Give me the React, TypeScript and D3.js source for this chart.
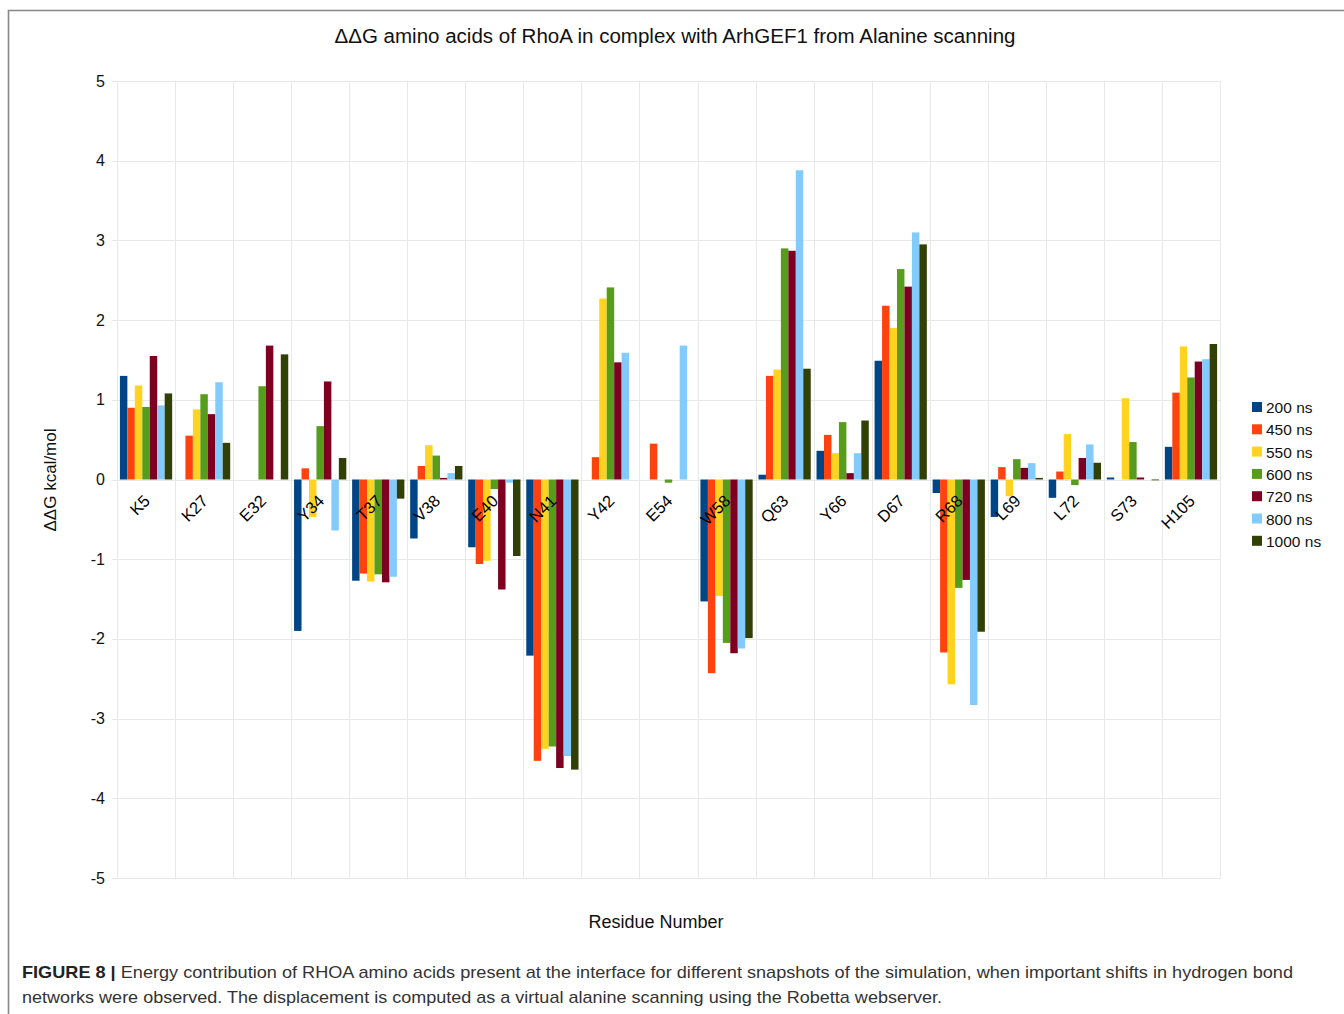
import React, { useEffect, useRef } from 'react';
import * as d3 from 'd3';

const residues = ['K5', 'K27', 'E32', 'Y34', 'T37', 'V38', 'E40', 'N41', 'Y42', 'E54', 'W58', 'Q63', 'Y66', 'D67', 'R68', 'L69', 'L72', 'S73', 'H105'];
const seriesNames = ['200 ns', '450 ns', '550 ns', '600 ns', '720 ns', '800 ns', '1000 ns'];
const seriesColors = ['#004586', '#ff420e', '#ffd320', '#579d1c', '#7e0021', '#83caff', '#314004'];

// one value per residue, same order as residues
const ns200 = [1.30, 0, 0, -1.90, -1.27, -0.74, -0.85, -2.21, 0, 0, -1.53, 0.06, 0.36, 1.49, -0.17, -0.47, -0.23, 0.025, 0.41];
const ns450 = [0.90, 0.55, 0, 0.14, -1.18, 0.17, -1.06, -3.53, 0.28, 0.45, -2.43, 1.30, 0.56, 2.18, -2.17, 0.155, 0.10, 0, 1.09];
const ns550 = [1.18, 0.88, 0, -0.47, -1.28, 0.43, -1.02, -3.38, 2.27, 0, -1.46, 1.38, 0.33, 1.90, -2.57, -0.21, 0.57, 1.02, 1.67];
const ns600 = [0.91, 1.07, 1.17, 0.67, -1.19, 0.30, -0.12, -3.35, 2.41, -0.04, -2.05, 2.90, 0.72, 2.64, -1.36, 0.255, -0.07, 0.47, 1.28];
const ns720 = [1.55, 0.82, 1.68, 1.23, -1.29, 0.02, -1.38, -3.62, 1.47, 0, -2.18, 2.87, 0.08, 2.42, -1.26, 0.146, 0.27, 0.025, 1.48];
const ns800 = [0.93, 1.22, 0, -0.64, -1.22, 0.08, -0.04, -3.47, 1.59, 1.68, -2.12, 3.88, 0.33, 3.10, -2.83, 0.205, 0.44, 0, 1.51];
const ns1000 = [1.08, 0.46, 1.57, 0.27, -0.24, 0.17, -0.96, -3.64, 0, 0, -1.99, 1.39, 0.74, 2.95, -1.91, 0.02, 0.21, -0.01, 1.70];

const yTicks = [5, 4, 3, 2, 1, 0, -1, -2, -3, -4, -5];

const title = 'ΔΔG amino acids of RhoA in complex with ArhGEF1 from Alanine scanning';
const captionBold = 'FIGURE 8 |';
const captionLine1 = ' Energy contribution of RHOA amino acids present at the interface for different snapshots of the simulation, when important shifts in hydrogen bond';
const captionLine2 = 'networks were observed. The displacement is computed as a virtual alanine scanning using the Robetta webserver.';

const W = 1344;
const H = 1014;

export default function App() {
  const ref = useRef<SVGSVGElement | null>(null);

  useEffect(() => {
    const svg = d3.select(ref.current);
    svg.selectAll('*').remove();

    const font = '"Liberation Sans", Arial, sans-serif';
    const margin = { left: 117, right: 1220, top: 81, bottom: 878 };
    const series = [ns200, ns450, ns550, ns600, ns720, ns800, ns1000];

    svg.append('rect').attr('width', W).attr('height', H).attr('fill', '#fff');

    // frame
    svg.append('path')
      .attr('d', `M8.5,${H} V10.5 H${W}`)
      .attr('fill', 'none')
      .attr('stroke', '#888')
      .attr('stroke-width', 1.6);

    const x = d3.scaleBand<string>().domain(residues).range([margin.left, margin.right]).padding(0);
    const x1 = d3.scaleBand<string>().domain(seriesNames)
      .range([x.bandwidth() * 0.05, x.bandwidth() * 0.95]).padding(0);
    const y = d3.scaleLinear().domain([-5, 5]).range([margin.bottom, margin.top]);

    // grid
    const grid = svg.append('g').attr('stroke', '#e8e8e8').attr('stroke-width', 1);
    yTicks.forEach(t => {
      grid.append('line')
        .attr('x1', margin.left - 5).attr('x2', margin.right)
        .attr('y1', Math.round(y(t)) + 0.5).attr('y2', Math.round(y(t)) + 0.5);
    });
    residues.concat(['__end']).forEach((r, i) => {
      const xx = margin.left + i * x.bandwidth();
      grid.append('line')
        .attr('x1', Math.round(xx) + 0.5).attr('x2', Math.round(xx) + 0.5)
        .attr('y1', margin.top).attr('y2', margin.bottom);
    });

    // y tick labels
    svg.append('g').selectAll('text').data(yTicks).enter().append('text')
      .attr('x', 105)
      .attr('y', d => y(d) + 5.5)
      .attr('text-anchor', 'end')
      .attr('font-family', font)
      .attr('font-size', 16)
      .attr('fill', '#111')
      .text(d => String(d));

    // bars
    series.forEach((vals, si) => {
      svg.append('g').selectAll('rect').data(vals).enter().append('rect')
        .attr('x', (d, i) => (x(residues[i]) || 0) + (x1(seriesNames[si]) || 0))
        .attr('width', x1.bandwidth())
        .attr('y', d => y(Math.max(0, d)))
        .attr('height', d => Math.abs(y(d) - y(0)))
        .attr('fill', seriesColors[si]);
    });

    // category labels
    svg.append('g').selectAll('text').data(residues).enter().append('text')
      .attr('transform', d => `translate(${(x(d) || 0) + x.bandwidth() / 2 + 5},502) rotate(-45)`)
      .attr('text-anchor', 'end')
      .attr('font-family', font)
      .attr('font-size', 16.5)
      .attr('fill', '#000')
      .text(d => d);

    // title
    svg.append('text')
      .attr('x', 675).attr('y', 43)
      .attr('text-anchor', 'middle')
      .attr('font-family', font)
      .attr('font-size', 20)
      .attr('fill', '#111')
      .attr('textLength', 681)
      .attr('lengthAdjust', 'spacingAndGlyphs')
      .text(title);

    // axis titles
    svg.append('text')
      .attr('transform', 'translate(56,480) rotate(-90)')
      .attr('text-anchor', 'middle')
      .attr('font-family', font)
      .attr('font-size', 17)
      .attr('fill', '#111')
      .text('ΔΔG kcal/mol');

    svg.append('text')
      .attr('x', 656).attr('y', 928)
      .attr('text-anchor', 'middle')
      .attr('font-family', font)
      .attr('font-size', 18)
      .attr('fill', '#111')
      .text('Residue Number');

    // legend
    const legend = svg.append('g').attr('transform', 'translate(1252,402)');
    seriesNames.forEach((name, i) => {
      const g = legend.append('g').attr('transform', `translate(0,${i * 22.3})`);
      g.append('rect').attr('width', 10).attr('height', 10).attr('fill', seriesColors[i]);
      g.append('text')
        .attr('x', 14).attr('y', 11)
        .attr('font-family', font)
        .attr('font-size', 15.5)
        .attr('fill', '#111')
        .text(name);
    });

    // caption
    const cap1 = svg.append('text')
      .attr('x', 22).attr('y', 978)
      .attr('font-family', font)
      .attr('font-size', 17)
      .attr('fill', '#333')
      .attr('textLength', 1271)
      .attr('lengthAdjust', 'spacingAndGlyphs');
    cap1.append('tspan').attr('font-weight', 'bold').attr('fill', '#222').text(captionBold);
    cap1.append('tspan').text(captionLine1);

    svg.append('text')
      .attr('x', 22).attr('y', 1003)
      .attr('font-family', font)
      .attr('font-size', 17)
      .attr('fill', '#333')
      .attr('textLength', 920)
      .attr('lengthAdjust', 'spacingAndGlyphs')
      .text(captionLine2);
  }, []);

  return (
    <svg ref={ref} width={W} height={H}
      style={{ position: 'absolute', left: 0, top: 0, display: 'block' }} />
  );
}
